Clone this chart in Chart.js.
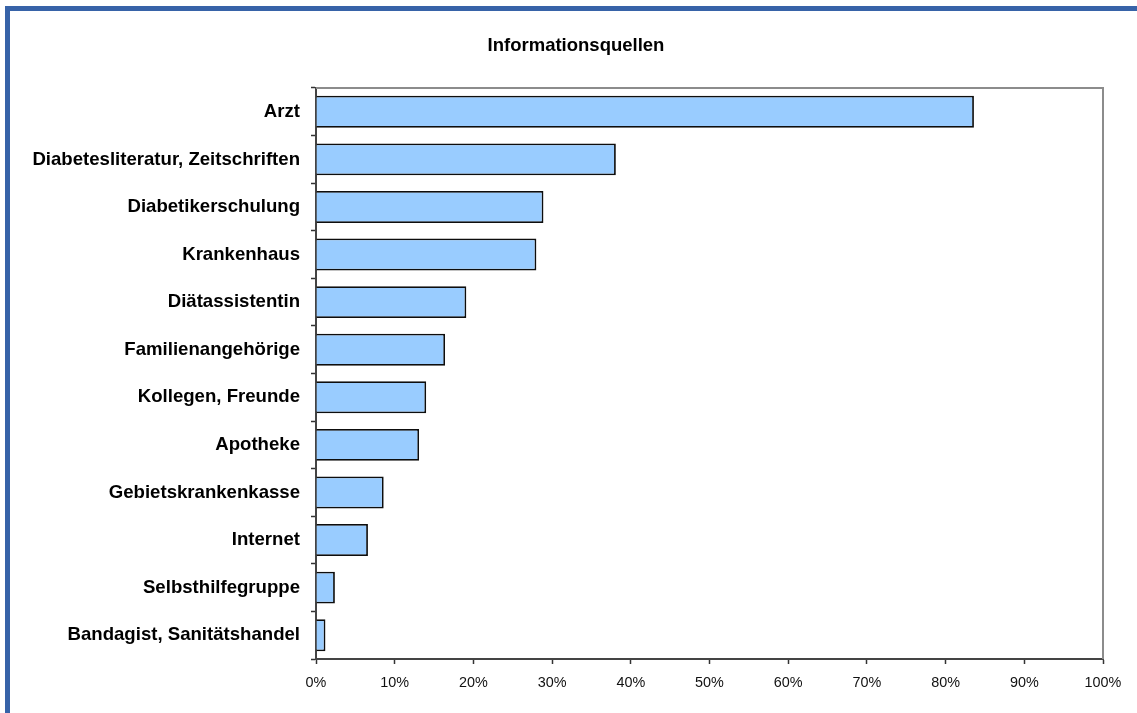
<!DOCTYPE html>
<html>
<head>
<meta charset="utf-8">
<script src="https://cdn.jsdelivr.net/npm/chart.js@4"></script>
<style>
  html, body { margin: 0; padding: 0; background: #fff; }
  #frame {
    position: absolute; left: 5px; top: 6px; right: -10px; bottom: -10px;
    border-left: 5px solid #3763a8; border-top: 5px solid #3763a8;
  }
  #wrap { position: absolute; left: 0; top: 0; width: 1137px; height: 713px; }
</style>
</head>
<body>
<div id="frame"></div>
<div id="wrap"><canvas id="chart" width="1137" height="713"></canvas></div>
<script>
const chartTitle = 'Informationsquellen';
const categories = [
  'Arzt',
  'Diabetesliteratur, Zeitschriften',
  'Diabetikerschulung',
  'Krankenhaus',
  'Diätassistentin',
  'Familienangehörige',
  'Kollegen, Freunde',
  'Apotheke',
  'Gebietskrankenkasse',
  'Internet',
  'Selbsthilfegruppe',
  'Bandagist, Sanitätshandel'
];
const shares = [83.6, 38.1, 28.9, 28.0, 19.1, 16.4, 14.0, 13.1, 8.6, 6.6, 2.4, 1.2];
const xTicks = [0, 10, 20, 30, 40, 50, 60, 70, 80, 90, 100];

// grey frame on top and right side of the plot area, plus the centred title
const plotFrame = {
  id: 'plotFrame',
  afterDraw(chart) {
    const { ctx, chartArea: a } = chart;
    ctx.save();
    ctx.strokeStyle = '#8c8c8c';
    ctx.lineWidth = 2;
    ctx.beginPath();
    ctx.moveTo(a.left, a.top);
    ctx.lineTo(a.right, a.top);
    ctx.lineTo(a.right, a.bottom);
    ctx.stroke();

    ctx.fillStyle = '#000';
    ctx.font = 'bold 18.5px "Liberation Sans", Arial, sans-serif';
    ctx.textAlign = 'center';
    ctx.textBaseline = 'middle';
    ctx.fillText(chartTitle, 576, 46);
    ctx.restore();
  }
};

const ctx = document.getElementById('chart').getContext('2d');
new Chart(ctx, {
  type: 'bar',
  data: {
    labels: categories,
    datasets: [{
      label: chartTitle,
      data: shares,
      backgroundColor: '#99ccff',
      borderColor: '#0d0d0d',
      borderWidth: 1.8,
      barPercentage: 0.672,
      categoryPercentage: 1
    }]
  },
  options: {
    indexAxis: 'y',
    responsive: false,
    animation: false,
    layout: { padding: { left: 0, right: 34, top: 88, bottom: 0 } },
    plugins: {
      legend: { display: false },
      tooltip: { enabled: false },
      title: { display: false }
    },
    scales: {
      x: {
        min: 0,
        max: 100,
        afterBuildTicks(scale) { scale.ticks = xTicks.map(v => ({ value: v })); },
        afterFit(scale) { scale.height = 54; },
        grid: { drawOnChartArea: false, drawTicks: true, tickLength: 5, tickColor: '#333', tickWidth: 1.5 },
        border: { display: true, color: '#444', width: 2 },
        ticks: {
          color: '#111',
          padding: 10,
          font: { family: 'Liberation Sans, Arial, sans-serif', size: 14.4 },
          callback: v => v + '%'
        }
      },
      y: {
        afterFit(scale) { scale.width = 316; },
        grid: { drawOnChartArea: false, drawTicks: true, tickLength: 5, tickColor: '#333', tickWidth: 1.5, offset: true },
        border: { display: true, color: '#444', width: 2 },
        ticks: {
          color: '#000',
          padding: 11,
          font: { family: 'Liberation Sans, Arial, sans-serif', size: 18.6, weight: 'bold' }
        }
      }
    }
  },
  plugins: [plotFrame]
});
</script>
</body>
</html>
